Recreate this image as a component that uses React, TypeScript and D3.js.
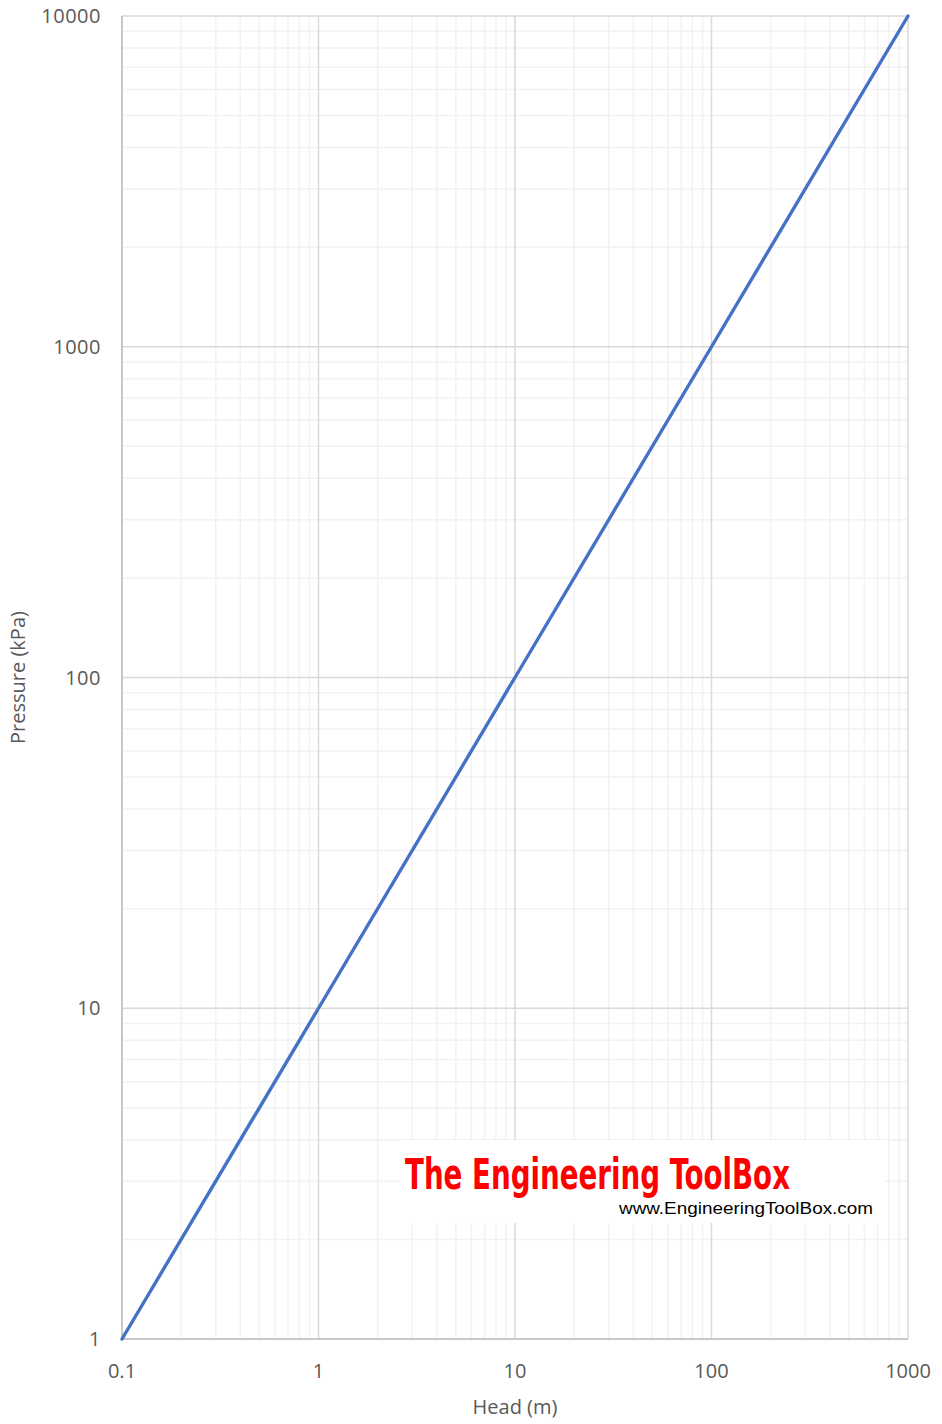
import React, { useEffect, useRef } from "react";
import * as d3 from "d3";

// values
const headM = [0.1, 1, 10, 100, 1000];
const pressureKPa = [1, 10, 100, 1000, 10000];
const xTickLabels = ["0.1", "1", "10", "100", "1000"];
const yTickLabels = ["1", "10", "100", "1000", "10000"];

const width = 942;
const height = 1424;
const margin = { top: 16, right: 34, bottom: 85, left: 122 };

function App() {
  const svgRef = useRef<SVGSVGElement>(null);

  useEffect(() => {
    const svg = d3.select(svgRef.current);
    svg.selectAll("*").remove();

    const x = d3.scaleLog().domain([0.1, 1000]).range([margin.left, width - margin.right]);
    const y = d3.scaleLog().domain([1, 10000]).range([height - margin.bottom, margin.top]);

    const g = svg.append("g");

    // minor gridlines
    const minorX: number[] = [];
    const minorY: number[] = [];
    for (let e = -1; e < 3; e++) for (let k = 2; k <= 9; k++) minorX.push(k * Math.pow(10, e));
    for (let e = 0; e < 4; e++) for (let k = 2; k <= 9; k++) minorY.push(k * Math.pow(10, e));

    g.selectAll(".mx").data(minorX).join("line")
      .attr("x1", d => x(d)).attr("x2", d => x(d))
      .attr("y1", margin.top).attr("y2", height - margin.bottom)
      .attr("stroke", "#f2f2f2").attr("stroke-width", 1.5);
    g.selectAll(".my").data(minorY).join("line")
      .attr("y1", d => y(d)).attr("y2", d => y(d))
      .attr("x1", margin.left).attr("x2", width - margin.right)
      .attr("stroke", "#f2f2f2").attr("stroke-width", 1.5);

    // major gridlines
    g.selectAll(".Mx").data(headM).join("line")
      .attr("x1", d => x(d)).attr("x2", d => x(d))
      .attr("y1", margin.top).attr("y2", height - margin.bottom)
      .attr("stroke", "#d9d9d9").attr("stroke-width", 1.5);
    g.selectAll(".My").data(pressureKPa).join("line")
      .attr("y1", d => y(d)).attr("y2", d => y(d))
      .attr("x1", margin.left).attr("x2", width - margin.right)
      .attr("stroke", "#d9d9d9").attr("stroke-width", 1.5);

    // axis lines
    g.append("line")
      .attr("x1", margin.left).attr("x2", margin.left)
      .attr("y1", margin.top).attr("y2", height - margin.bottom)
      .attr("stroke", "#bfbfbf").attr("stroke-width", 1.5);
    g.append("line")
      .attr("x1", margin.left).attr("x2", width - margin.right)
      .attr("y1", height - margin.bottom).attr("y2", height - margin.bottom)
      .attr("stroke", "#bfbfbf").attr("stroke-width", 1.5);

    // tick labels
    const font = "'Open Sans', 'Liberation Sans', sans-serif";
    g.selectAll(".xl").data(headM).join("text")
      .attr("x", d => x(d)).attr("y", height - margin.bottom + 39)
      .attr("text-anchor", "middle")
      .attr("font-family", font).attr("font-size", 20).attr("fill", "#595959")
      .text((d, i) => xTickLabels[i]);
    g.selectAll(".yl").data(pressureKPa).join("text")
      .attr("x", margin.left - 21).attr("y", d => y(d) + 7)
      .attr("text-anchor", "end")
      .attr("font-family", font).attr("font-size", 20).attr("fill", "#595959")
      .attr("letter-spacing", 0.5)
      .text((d, i) => yTickLabels[i]);

    // axis titles
    g.append("text")
      .attr("x", (margin.left + width - margin.right) / 2).attr("y", height - 10)
      .attr("text-anchor", "middle")
      .attr("font-family", font).attr("font-size", 20).attr("fill", "#595959")
      .text("Head (m)");
    g.append("text")
      .attr("transform", `translate(25,${(margin.top + height - margin.bottom) / 2}) rotate(-90)`)
      .attr("text-anchor", "middle")
      .attr("font-family", font).attr("font-size", 20).attr("fill", "#595959")
      .text("Pressure (kPa)");

    // series line
    const line = d3.line<number>()
      .x((d, i) => x(headM[i]))
      .y(d => y(d));
    g.append("path")
      .datum(pressureKPa)
      .attr("d", line)
      .attr("fill", "none")
      .attr("stroke", "#4472c4")
      .attr("stroke-width", 3.4)
      .attr("stroke-linecap", "round");

    // watermark
    g.append("rect")
      .attr("x", 400).attr("y", 1140).attr("width", 485).attr("height", 83)
      .attr("fill", "#ffffff");
    g.append("text")
      .attr("x", 405).attr("y", 1189)
      .attr("font-family", "'DejaVu Sans Condensed', 'DejaVu Sans', sans-serif")
      .attr("font-weight", "bold")
      .attr("font-size", 42)
      .attr("textLength", 385)
      .attr("lengthAdjust", "spacingAndGlyphs")
      .attr("fill", "#ff0000")
      .text("The Engineering ToolBox");
    g.append("text")
      .attr("x", 619).attr("y", 1214)
      .attr("font-family", "'Liberation Sans', Arial, sans-serif")
      .attr("font-size", 16)
      .attr("textLength", 254)
      .attr("lengthAdjust", "spacingAndGlyphs")
      .attr("fill", "#000000")
      .text("www.EngineeringToolBox.com");
  }, []);

  return (
    <svg
      ref={svgRef}
      width={width}
      height={height}
      style={{ display: "block", position: "absolute", top: 0, left: 0 }}
    />
  );
}

export default App;
